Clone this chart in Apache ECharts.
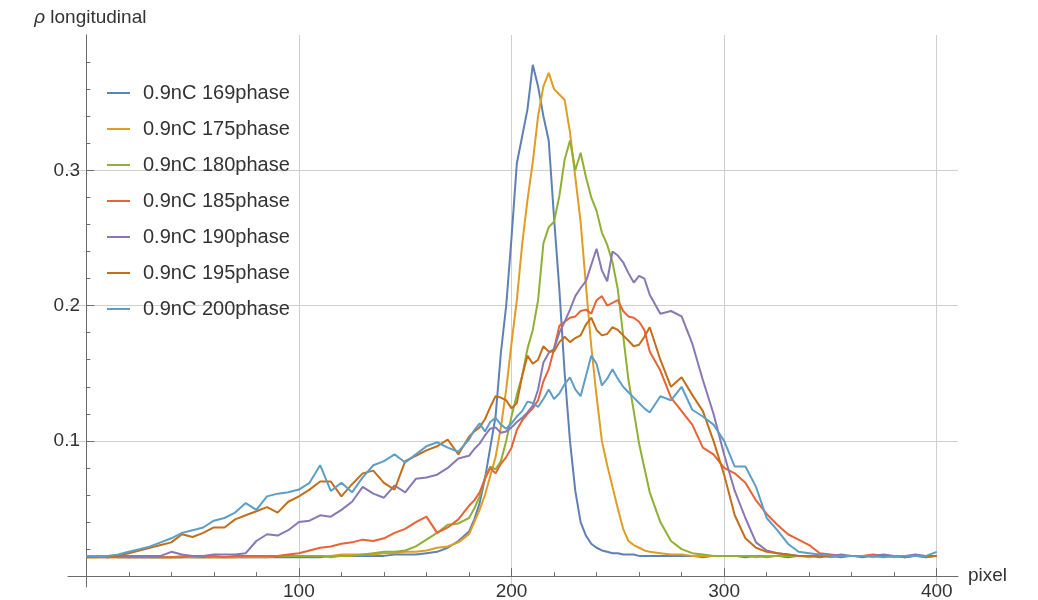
<!DOCTYPE html>
<html><head><meta charset="utf-8">
<script src="https://cdn.jsdelivr.net/npm/echarts@6/dist/echarts.min.js"></script>
<style>html,body{margin:0;padding:0;background:#fff}#c{width:1038px;height:600px}</style>
</head><body><div id="c"></div>
<script>
// pixel positions (shared x grid)
const X = [0,5,10,15,20,25,30,35,40,45,50,55,60,65,70,75,80,85,90,95,100,105,110,115,120,125,130,135,140,145,150,155,160,165,170,175,180,
182.5,185,187.5,190,192.5,195,197.5,200,202.5,205,207.5,210,212.5,215,217.5,220,222.5,225,227.5,230,232.5,235,237.5,240,242.5,245,247.5,250,252.5,255,257.5,260,262.5,
265,270,275,280,285,290,295,300,305,310,315,320,325,330,335,340,345,350,355,360,365,370,375,380,385,390,395,400];

const names = ['0.9nC 169phase','0.9nC 175phase','0.9nC 180phase','0.9nC 185phase','0.9nC 190phase','0.9nC 195phase','0.9nC 200phase'];

const p169 = [
.015,.015,.014,.015,.014,.014,.014,.014,.014,.014,
.014,.014,.014,.014,.014,.014,.014,.014,.014,.014,
.014,.014,.014,.015,.015,.015,.015,.015,.015,.016,
.016,.016,.017,.018,.021,.026,.033,
.042,.054,.072,.095,.118,.165,.200,.250,.305,.325,
.345,.378,.362,.340,.322,.265,.212,.150,.100,.063,
.040,.030,.024,.021,.019,.018,.017,.017,.016,.016,
.016,.015,.015,
.015,.015,.015,.015,.015,.014,.015,.015,.015,.014,
.015,.015,.015,.014,.015,.015,.014,.015,.015,.015,
.014,.015,.015,.015,.014,.015,.015,.015];

const p175 = [
.014,.014,.015,.014,.014,.015,.014,.014,.014,.015,
.014,.014,.014,.014,.014,.015,.015,.015,.015,.015,
.015,.015,.015,.015,.016,.016,.016,.016,.017,.017,
.018,.018,.019,.021,.022,.025,.031,
.040,.049,.060,.074,.088,.110,.138,.172,.204,.245,
.278,.306,.340,.362,.372,.360,.356,.352,.328,.295,
.262,.215,.170,.133,.100,.082,.066,.050,.035,.026,
.023,.021,.019,
.018,.017,.016,.016,.015,.015,.015,.015,.015,.015,
.014,.015,.015,.015,.015,.014,.015,.015,.015,.015,
.015,.014,.015,.015,.015,.015,.014,.015];

const p180 = [
.014,.014,.014,.014,.014,.014,.014,.014,.014,.014,
.014,.014,.014,.014,.014,.014,.014,.014,.015,.015,
.015,.015,.015,.014,.015,.015,.016,.017,.018,.018,
.019,.022,.027,.032,.038,.039,.043,
.050,.059,.073,.081,.079,.085,.100,.118,.134,.148,
.168,.182,.204,.246,.258,.262,.281,.308,.322,.300,
.313,.295,.280,.270,.254,.245,.232,.212,.178,.145,
.122,.098,.080,
.062,.040,.026,.020,.017,.016,.015,.015,.015,.015,
.015,.014,.015,.015,.015,.015,.015,.014,.015,.015,
.015,.015,.015,.014,.015,.015,.015,.015];

const p185 = [
.014,.014,.014,.014,.014,.014,.014,.014,.014,.014,
.015,.014,.015,.014,.015,.015,.015,.015,.015,.016,
.017,.019,.021,.022,.024,.025,.027,.026,.028,.032,
.035,.040,.044,.032,.036,.042,.052,
.056,.062,.072,.080,.076,.083,.088,.095,.108,.115,
.120,.124,.130,.144,.153,.168,.185,.188,.191,.192,
.196,.197,.194,.204,.207,.200,.202,.204,.196,.192,
.191,.188,.182,
.166,.152,.132,.122,.112,.095,.090,.080,.076,.069,
.056,.046,.038,.031,.027,.023,.017,.016,.015,.015,
.015,.016,.015,.015,.015,.015,.014,.015];

const p190 = [
.015,.015,.014,.015,.015,.015,.015,.015,.018,.016,
.015,.015,.016,.016,.016,.017,.026,.031,.030,.034,
.040,.041,.045,.044,.049,.055,.066,.061,.058,.067,
.062,.072,.073,.075,.080,.087,.089,
.094,.098,.104,.109,.110,.106,.107,.110,.114,.117,
.121,.126,.138,.158,.165,.168,.180,.188,.197,.207,
.213,.218,.230,.242,.226,.218,.240,.237,.232,.224,
.217,.222,.220,
.208,.194,.196,.192,.172,.145,.120,.090,.063,.043,
.025,.019,.017,.016,.015,.015,.015,.015,.016,.015,
.015,.015,.016,.015,.015,.016,.015,.015];

const p195 = [
.014,.015,.015,.015,.017,.019,.021,.023,.025,.031,
.029,.032,.036,.036,.042,.045,.048,.051,.047,.055,
.059,.064,.070,.070,.059,.068,.076,.078,.069,.064,
.085,.089,.093,.096,.101,.090,.103,
.107,.110,.116,.125,.133,.132,.130,.124,.128,.148,
.163,.157,.160,.170,.166,.166,.173,.177,.173,.176,
.178,.186,.191,.182,.178,.179,.184,.182,.178,.174,
.170,.171,.177,
.184,.160,.140,.147,.134,.122,.100,.075,.045,.028,
.021,.018,.017,.016,.015,.015,.015,.015,.014,.015,
.015,.015,.015,.015,.014,.015,.015,.015];

const p200 = [
.015,.015,.015,.016,.018,.020,.022,.025,.028,.032,
.034,.036,.041,.043,.047,.054,.049,.059,.061,.062,
.064,.069,.082,.063,.069,.062,.073,.082,.085,.090,
.084,.090,.096,.099,.095,.092,.101,
.108,.113,.107,.114,.117,.112,.109,.113,.118,.122,
.129,.128,.125,.131,.138,.131,.135,.142,.147,.138,
.133,.148,.163,.157,.141,.146,.153,.146,.140,.136,
.132,.128,.124,
.121,.133,.130,.140,.123,.118,.112,.100,.081,.081,
.066,.043,.034,.024,.018,.017,.016,.015,.015,.015,
.015,.015,.014,.015,.015,.015,.015,.018];

const xMajorTicks = [100, 200, 300, 400];
const xMinorTicks = [20,40,60,80,120,140,160,180,220,240,260,280,320,340,360,380];
const yMajorTicks = [0.1, 0.2, 0.3];
const yMinorTicks = [0.02,0.04,0.06,0.08,0.12,0.14,0.16,0.18,0.22,0.24,0.26,0.28,0.32,0.34,0.36,0.38];

const seriesValues = [p169, p175, p180, p185, p190, p195, p200];
const colors = ['#5E81B5','#E19C24','#8FB032','#EB6235','#8778B3','#C56E1A','#5D9EC7'];

const FONT = '"Liberation Sans", Arial, sans-serif';
const AXIS_COLOR = '#6b6b6b';
const GRID_COLOR = '#cfcfcf';
const TEXT_COLOR = '#333';

const XMIN = -8.6, XMAX = 410, YMIN = -0.008, YMAX = 0.4;

const chart = echarts.init(document.getElementById('c'), null, {renderer: 'canvas'});

function baseX(extra) {
  return Object.assign({
    type: 'value', min: XMIN, max: XMAX, splitNumber: 4, gridIndex: 0, position: 'bottom'
  }, extra);
}
function baseY(extra) {
  return Object.assign({
    type: 'value', min: YMIN, max: YMAX, splitNumber: 4, gridIndex: 0, position: 'left'
  }, extra);
}

chart.setOption({
  animation: false,
  backgroundColor: '#fff',
  grid: {left: 68, right: 80, top: 35, bottom: 13, containLabel: false, outerBoundsMode: 'none'},
  legend: {
    orient: 'vertical', left: 102, top: 78, icon: 'rect', itemWidth: 23, itemHeight: 2, itemGap: 16,
    textStyle: {fontSize: 20, lineHeight: 20, color: TEXT_COLOR, fontFamily: FONT, padding: [0, 0, 0, 8]},
    data: names
  },
  xAxis: [
    baseX({
      name: 'pixel', nameLocation: 'end', nameGap: 10,
      nameTextStyle: {fontSize: 19, color: TEXT_COLOR, fontFamily: FONT, verticalAlign: 'middle', padding: [0, 0, 3, 0]},
      axisLine: {show: true, onZero: true, onZeroAxisIndex: 0, lineStyle: {color: AXIS_COLOR, width: 1}},
      axisTick: {show: true, inside: true, length: 8, customValues: xMajorTicks, lineStyle: {color: AXIS_COLOR}},
      axisLabel: {show: true, customValues: xMajorTicks, margin: -5, fontSize: 19, color: TEXT_COLOR, fontFamily: FONT,
        formatter: v => (xMajorTicks.indexOf(Math.round(v)) >= 0 && Math.abs(v - Math.round(v)) < 1e-6) ? String(Math.round(v)) : ''},
      splitLine: {show: true, lineStyle: {color: GRID_COLOR, width: 1}}
    }),
    baseX({
      axisLine: {show: false, onZero: true, onZeroAxisIndex: 1},
      axisTick: {show: true, inside: true, length: 4, customValues: xMinorTicks, lineStyle: {color: AXIS_COLOR}},
      axisLabel: {show: false},
      splitLine: {show: false}
    })
  ],
  yAxis: [
    baseY({
      name: '{i|ρ} longitudinal', nameLocation: 'end', nameGap: 8,
      nameTextStyle: {fontSize: 19, color: TEXT_COLOR, fontFamily: FONT, padding: [0, 0, 0, 8],
        rich: {i: {fontStyle: 'italic', fontSize: 19, color: TEXT_COLOR, fontFamily: FONT}}},
      axisLine: {show: true, onZero: true, onZeroAxisIndex: 0, lineStyle: {color: AXIS_COLOR, width: 1}},
      axisTick: {show: true, inside: true, length: 8, customValues: yMajorTicks, lineStyle: {color: AXIS_COLOR}},
      axisLabel: {show: true, customValues: yMajorTicks, margin: -12, fontSize: 19, color: TEXT_COLOR, fontFamily: FONT,
        formatter: v => {
          const r = Math.round(v * 10) / 10;
          return (Math.abs(v - r) < 1e-6 && r > 0 && r < 0.35) ? r.toFixed(1) : '';
        }},
      splitLine: {show: true, lineStyle: {color: GRID_COLOR, width: 1}}
    }),
    baseY({
      axisLine: {show: false, onZero: true, onZeroAxisIndex: 1},
      axisTick: {show: true, inside: true, length: 4, customValues: yMinorTicks, lineStyle: {color: AXIS_COLOR}},
      axisLabel: {show: false},
      splitLine: {show: false}
    })
  ],
  series: seriesValues.map((vals, i) => ({
    type: 'line',
    name: names[i],
    xAxisIndex: 0,
    yAxisIndex: 0,
    data: X.map((x, k) => [x, vals[k]]),
    showSymbol: false,
    symbol: 'none',
    smooth: false,
    lineStyle: {width: 2, color: colors[i]},
    itemStyle: {color: colors[i]},
    emphasis: {disabled: true}
  }))
});
</script>
</body></html>
